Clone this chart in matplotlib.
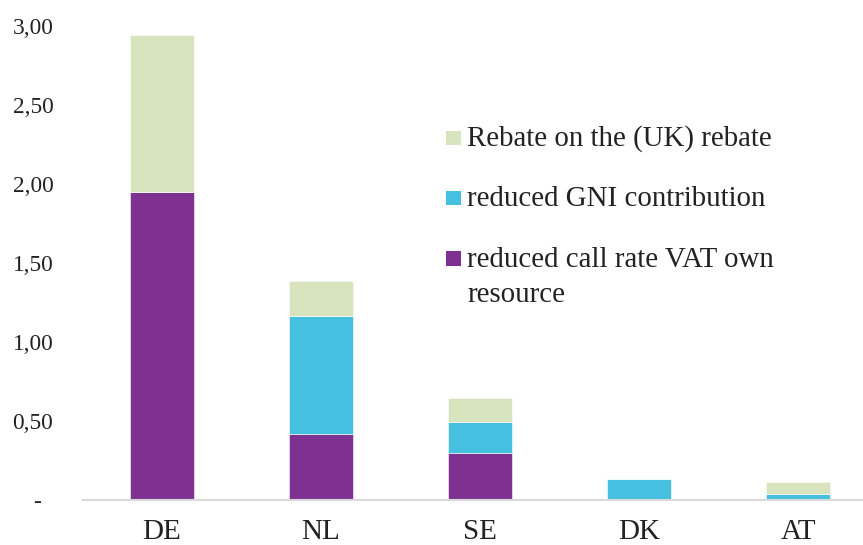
import matplotlib
matplotlib.use("Agg")
import matplotlib.pyplot as plt
import numpy as np
from matplotlib.patches import Rectangle

countries = ["DE", "NL", "SE", "DK", "AT"]
vat = [1.95, 0.42, 0.30, 0.00, 0.00]
gni = [0.00, 0.745, 0.195, 0.133, 0.036]
rebate = [0.99, 0.22, 0.152, 0.00, 0.078]
yticks = [0, 0.5, 1.0, 1.5, 2.0, 2.5, 3.0]
yticklabels = ["-  ", "0,50", "1,00", "1,50", "2,00", "2,50", "3,00"]
legend_labels = ["Rebate on the (UK) rebate", "reduced GNI contribution",
                 "reduced call rate VAT own\nresource"]

c_vat = "#7F3192"
c_gni = "#45C0E0"
c_reb = "#D7E4BD"
txt = "#222222"

plt.rcParams['font.family'] = ['Liberation Serif', 'DejaVu Serif']

W, H = 863, 545
fig = plt.figure(figsize=(W/100, H/100), dpi=100)
ax = fig.add_axes([82.5/W, 45/H, 795/W, 474/H])

x = np.arange(len(countries))
w = 0.4
vat_a = np.array(vat); gni_a = np.array(gni); reb_a = np.array(rebate)
ax.bar(x, vat_a, w, color=c_vat, edgecolor="white", linewidth=0.4)
ax.bar(x, gni_a, w, bottom=vat_a, color=c_gni, edgecolor="white", linewidth=0.4)
ax.bar(x, reb_a, w, bottom=vat_a + gni_a, color=c_reb, edgecolor="white", linewidth=0.4)

ax.set_xlim(-0.5, len(countries) - 0.5)
ax.set_ylim(0, 3.0)
ax.set_yticks(yticks)
ax.set_yticklabels(yticklabels, fontsize=16.8, color=txt)
ax.set_xticks(x)
ax.set_xticklabels(countries, fontsize=21, color=txt)
ax.tick_params(axis='y', length=0, pad=21)
ax.tick_params(axis='x', length=0, pad=14)
for s in ["top", "right", "left"]:
    ax.spines[s].set_visible(False)
ax.spines["bottom"].set_color("#D9D9D9")
ax.spines["bottom"].set_linewidth(1.5)

# legend drawn manually (pixel layout from the reference)
colors = [c_reb, c_gni, c_vat]
baselines = [146, 206.5, 266.7]
for col, lab, base in zip(colors, legend_labels, baselines):
    fig.patches.append(Rectangle((446/W, 1 - (base - 1)/H), 15/W, 14.5/H,
                                 transform=fig.transFigure, facecolor=col,
                                 edgecolor="none"))
    for k, line in enumerate(lab.split("\n")):
        fig.text(467/W, 1 - (base + 35*k)/H, line, fontsize=20.8, color=txt,
                 ha="left", va="baseline")

fig.savefig("out.png", dpi=100)
